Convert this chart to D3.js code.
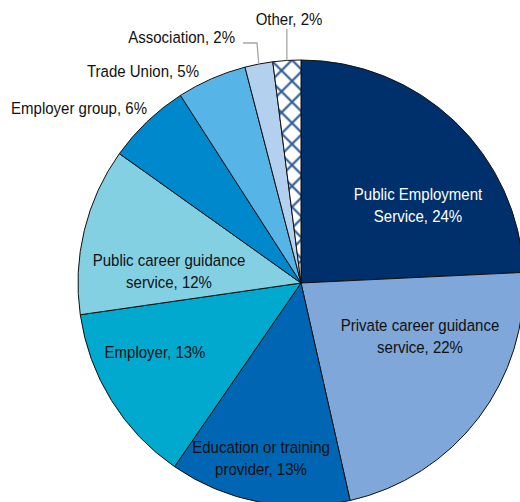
<!DOCTYPE html>
<html>
<head>
<meta charset="utf-8">
<script src="https://cdn.jsdelivr.net/npm/d3@7"></script>
<style>
  html, body { margin: 0; padding: 0; background: #fff; }
  svg { display: block; }
  text { font-family: "Liberation Sans", Arial, sans-serif; }
</style>
</head>
<body>
<svg id="chart" width="520" height="502"></svg>
<script>
// Share of respondents by source of guidance (%), clockwise from 12 o'clock
const categories = [
  "Public Employment Service",
  "Private career guidance service",
  "Education or training provider",
  "Employer",
  "Public career guidance service",
  "Employer group",
  "Trade Union",
  "Association",
  "Other"
];
const values = [24, 22, 13, 13, 12, 6, 5, 2, 2];

// Label text, split into lines
const labelLines = [
  ["Public Employment", "Service, 24%"],
  ["Private career guidance", "service, 22%"],
  ["Education or training", "provider, 13%"],
  ["Employer, 13%"],
  ["Public career guidance", "service, 12%"],
  ["Employer group, 6%"],
  ["Trade Union, 5%"],
  ["Association, 2%"],
  ["Other, 2%"]
];

// Slice fills
const fills = ["#00306c", "#7fa7d9", "#0066b3", "#00a9cd", "#83d0e2",
               "#0088cd", "#56b5e6", "#b3d0ee", "url(#hatch)"];

// Label placement: offset from pie centre (x, first baseline), anchor, text colour
const labelLayout = [
  { dx: 117, dy: -83, anchor: "middle", color: "#ffffff" },
  { dx: 119, dy: 48, anchor: "middle", color: "#111111" },
  { dx: -40, dy: 170, anchor: "middle", color: "#111111" },
  { dx: -146, dy: 75, anchor: "middle", color: "#111111" },
  { dx: -132, dy: -17, anchor: "middle", color: "#111111" },
  { dx: -154, dy: -169, anchor: "end", color: "#111111" },
  { dx: -102, dy: -206, anchor: "end", color: "#111111" },
  { dx: -66, dy: -240, anchor: "end", color: "#111111" },
  { dx: -12, dy: -258, anchor: "middle", color: "#111111" }
];

const width = 520, height = 502;
const cx = 301, cy = 283, radius = 223;
const lineGap = 22;
const fontSize = 16.5, fontStretch = 0.91;

const svg = d3.select("#chart");

// Diagonal cross-hatch for the "Other" slice
const defs = svg.append("defs");
const pat = defs.append("pattern")
  .attr("id", "hatch")
  .attr("patternUnits", "userSpaceOnUse")
  .attr("x", -19.5).attr("y", -212.5)
  .attr("width", 21).attr("height", 21);
pat.append("rect").attr("width", 21).attr("height", 21).attr("fill", "#ffffff");
pat.append("path")
  .attr("d", "M-2,-2L23,23M23,-2L-2,23")
  .attr("stroke", "#2f5c99")
  .attr("stroke-width", 2.2)
  .attr("fill", "none");

const g = svg.append("g").attr("transform", `translate(${cx},${cy})`);

const pie = d3.pie().sort(null).value(d => d.value);
const arcs = pie(categories.map((c, i) => ({ name: c, value: values[i], i })));
const arc = d3.arc().innerRadius(0).outerRadius(radius);

g.selectAll("path.slice")
  .data(arcs)
  .join("path")
  .attr("class", "slice")
  .attr("d", arc)
  .attr("fill", d => fills[d.data.i])
  .attr("stroke", "#111111")
  .attr("stroke-width", 1)
  .attr("stroke-linejoin", "round");

// Leader lines for the two thin slices at the top
const leaderArc = d3.arc().innerRadius(radius).outerRadius(radius);
const assoc = arcs[7], other = arcs[8];
const aEdge = leaderArc.centroid(assoc);
g.append("path")
  .attr("d", d3.line()([[-58, -240], [-44, -240], [aEdge[0], aEdge[1]]]))
  .attr("fill", "none").attr("stroke", "#a6a6a6").attr("stroke-width", 1.3);
const oEdge = leaderArc.centroid(other);
g.append("path")
  .attr("d", d3.line()([[oEdge[0], -254], [oEdge[0], oEdge[1]]]))
  .attr("fill", "none").attr("stroke", "#a6a6a6").attr("stroke-width", 1.3);

// Labels (slightly condensed face)
const labels = g.selectAll("text.lbl")
  .data(arcs)
  .join("text")
  .attr("class", "lbl")
  .attr("font-size", fontSize)
  .attr("text-anchor", d => labelLayout[d.data.i].anchor)
  .attr("fill", d => labelLayout[d.data.i].color)
  .attr("transform", d =>
    `translate(${labelLayout[d.data.i].dx},${labelLayout[d.data.i].dy}) scale(${fontStretch},1)`);

labels.selectAll("tspan")
  .data(d => labelLines[d.data.i])
  .join("tspan")
  .attr("x", 0)
  .attr("dy", (d, j) => j === 0 ? 0 : lineGap)
  .text(d => d);
</script>
</body>
</html>
